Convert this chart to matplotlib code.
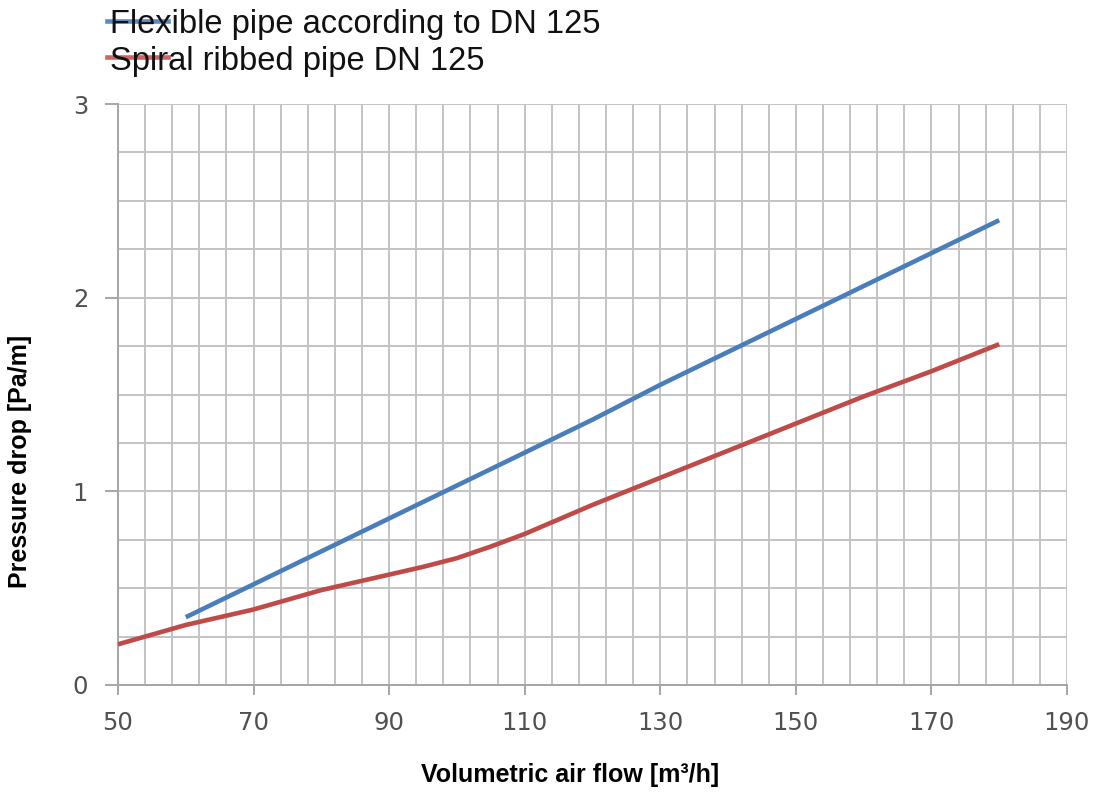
import matplotlib
matplotlib.use("Agg")
import matplotlib.pyplot as plt
from matplotlib.lines import Line2D
import numpy as np

# Data
flex_x = [60, 70, 80, 90, 100, 110, 120, 130, 140, 150, 160, 170, 180]
flex_y = [0.35, 0.52, 0.69, 0.86, 1.03, 1.20, 1.37, 1.55, 1.72, 1.89, 2.06, 2.23, 2.40]
spiral_x = [50, 55, 60, 65, 70, 75, 80, 85, 90, 95, 100, 105, 110, 115, 120, 125, 130, 140, 150, 160, 170, 180]
spiral_y = [0.21, 0.26, 0.31, 0.35, 0.39, 0.44, 0.49, 0.53, 0.57, 0.61, 0.655, 0.715, 0.78, 0.855, 0.93, 1.00, 1.07, 1.21, 1.35, 1.49, 1.62, 1.76]
legend_labels = ["Flexible pipe according to DN 125", "Spiral ribbed pipe DN 125"]
x_ticks = [50, 70, 90, 110, 130, 150, 170, 190]
y_ticks = [0, 1, 2, 3]

BLUE = "#4a7ebb"
RED = "#be4b48"
GRID = "#c3c3c3"

fig = plt.figure(figsize=(10.95, 7.95), dpi=100)
ax = fig.add_axes([118/1095, 1-685/795, (1067-118)/1095, (685-104)/795])

ax.set_xlim(50, 190)
ax.set_ylim(0, 3)

# grid
for gx in np.arange(50, 190.1, 4):
    ax.axvline(gx, color=GRID, lw=1.4, zorder=1)
for gy in np.arange(0, 3.01, 0.25):
    ax.axhline(gy, color=GRID, lw=1.4, zorder=1)

ax.plot(flex_x, flex_y, color=BLUE, lw=3.3, solid_capstyle="butt", zorder=3)
ax.plot(spiral_x, spiral_y, color=RED, lw=3.3, solid_capstyle="butt", zorder=3)

for s in ["top", "right"]:
    ax.spines[s].set_visible(False)
for s in ["left", "bottom"]:
    ax.spines[s].set_color("#a6a6a6")
    ax.spines[s].set_linewidth(1.4)

ax.set_xticks(x_ticks)
ax.set_yticks(y_ticks)
ax.set_xticklabels([str(v) for v in x_ticks], fontfamily="DejaVu Sans", fontsize=17.5, color="#505050")
ax.set_yticklabels([str(v) for v in y_ticks], fontfamily="DejaVu Sans", fontsize=17.5, color="#505050")
ax.tick_params(axis="x", length=7, width=1.4, color="#a6a6a6", pad=12)
ax.tick_params(axis="y", length=9.5, width=1.4, color="#a6a6a6", pad=12)

fig.text(570/1095, 1-775/795, "Volumetric air flow [m³/h]", ha="center", va="center",
         fontfamily="Liberation Sans", fontweight="bold", fontsize=18)
fig.text(20/1095, 1-461/795, "Pressure drop [Pa/m]", ha="center", va="center", rotation=90,
         fontfamily="Liberation Sans", fontweight="bold", fontsize=18)

# legend
for lab, col, base, ly in [(legend_labels[0], "#5a8ac6", 33.5, 21), (legend_labels[1], "#cd6663", 70, 57)]:
    fig.add_artist(Line2D([107/1095, 168/1095], [1-ly/795, 1-ly/795], color=col, lw=3.3))
    fig.text(110/1095, 1-base/795, lab, ha="left", va="baseline", fontfamily="Liberation Sans",
             fontsize=23.5, color="#111111")

fig.savefig("out.png", dpi=100, facecolor="white")
